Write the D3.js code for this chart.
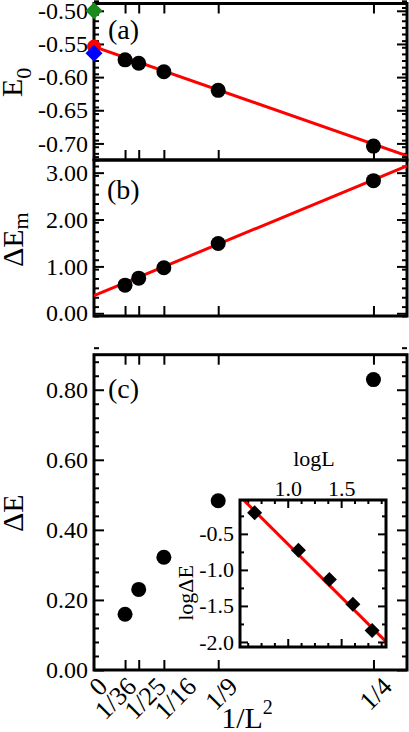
<!DOCTYPE html>
<html>
<head>
<meta charset="utf-8">
<script src="https://cdn.jsdelivr.net/npm/d3@7"></script>
<style>
body { margin: 0; background: #fff; }
svg { display: block; font-family: "Liberation Serif", "Times New Roman", serif; }
</style>
</head>
<body>
<svg id="chart" width="409" height="732"></svg>
<script>
// x positions: 1/L^2 for L = 6,5,4,3,2
let xTickValues = [0, 1/36, 1/25, 1/16, 1/9, 1/4];
let xTickLabels = ["0", "1/36", "1/25", "1/16", "1/9", "1/4"];
let invL2 = [1/36, 1/25, 1/16, 1/9, 1/4];

// panel (a)
let e0 = [-0.574, -0.579, -0.592, -0.620, -0.704];
let e0Fit = [-0.554, -0.588];          // intercept, slope
let e0Extra = [
    {y: -0.500, shape: "diamond", color: "#1a8a1a"},
    {y: -0.554, shape: "circle", color: "red"},
    {y: -0.564, shape: "diamond", color: "blue"}
];
let e0Ticks = [-0.70, -0.65, -0.60, -0.55, -0.50];

// panel (b)
let dEm = [0.60, 0.75, 0.97, 1.49, 2.83];
let dEmFit = [0.375, 9.90];
let dEmTicks = [0, 1, 2, 3];

// panel (c)
let dE = [0.159, 0.230, 0.322, 0.483, 0.829];
let dETicks = [0, 0.2, 0.4, 0.6, 0.8];

// inset
let logL = [1.79, 1.61, 1.39, 1.10, 0.69];
let logDE = [-1.840, -1.475, -1.132, -0.729, -0.207];
let logFit = [0.835, -1.475];
let logLTicks = [1.0, 1.5];
let logDETicks = [-2.0, -1.5, -1.0, -0.5];

// hand placed offsets of the slanted x labels (px right of the tick)
let xLabelNudge = [15, 13, 29, 34, 21, 20];

let svg = d3.select("#chart");
let left = 94, right = 407;
let x = d3.scaleLinear().domain([0, 0.28]).range([left, right]);

let frameWidth = 3;
let redWidth = 3;
let fmt2 = d => d.toFixed(2);
let fmt1 = d => d.toFixed(1);

function range(a, b, step) {
    let out = [];
    let n = Math.round((b - a) / step);
    for (let i = 0; i <= n; i++) out.push(+(a + i * step).toFixed(6));
    return out;
}

function diamond(g, cx, cy, r, color) {
    g.append("path")
        .attr("d", `M${cx},${cy - r}L${cx + r},${cy}L${cx},${cy + r}L${cx - r},${cy}Z`)
        .attr("fill", color);
}

// draw one panel: frame, ticks, y labels
function panel(opts) {
    let g = svg.append("g");
    let y = opts.y;
    let top = y.range()[1], bottom = y.range()[0];
    let id = "clip" + opts.name;
    svg.append("clipPath").attr("id", id)
        .append("rect").attr("x", left).attr("y", top)
        .attr("width", right - left).attr("height", bottom - top);

    // y minor + major ticks, left and right
    let minor = range(y.domain()[0], y.domain()[1], opts.minorStep)
        .filter(v => !opts.ticks.some(t => Math.abs(t - v) < 1e-6));
    g.append("g").attr("transform", `translate(${left},0)`)
        .call(d3.axisLeft(y).tickValues(minor).tickSize(-5).tickFormat(""));
    g.append("g").attr("transform", `translate(${right},0)`)
        .call(d3.axisRight(y).tickValues(minor).tickSize(-5).tickFormat(""));
    g.append("g").attr("transform", `translate(${left},0)`)
        .call(d3.axisLeft(y).tickValues(opts.ticks).tickSize(-10).tickPadding(6).tickFormat(fmt2));
    g.append("g").attr("transform", `translate(${right},0)`)
        .call(d3.axisRight(y).tickValues(opts.ticks).tickSize(-10).tickFormat(""));

    // x ticks top / bottom
    let xt = xTickValues.slice(1);
    if (opts.topTicks) {
        g.append("g").attr("transform", `translate(0,${top})`)
            .call(d3.axisTop(x).tickValues(xt).tickSize(-10).tickFormat(""));
    }
    g.append("g").attr("transform", `translate(0,${bottom})`)
        .call(d3.axisBottom(x).tickValues(xt).tickSize(-10).tickFormat(""));

    g.selectAll(".domain").remove();
    g.selectAll(".tick line").attr("stroke", "black").attr("stroke-width", 2);
    g.selectAll(".tick text").attr("font-size", 24).attr("font-family", "Liberation Serif").attr("fill", "black");

    g.append("rect").attr("x", left).attr("y", top)
        .attr("width", right - left).attr("height", bottom - top)
        .attr("fill", "none").attr("stroke", "black").attr("stroke-width", frameWidth);

    return svg.append("g").attr("clip-path", `url(#${id})`);
}

// ---- panel (a)
let yA = d3.scaleLinear().domain([-0.725, -0.489]).range([160, 3.5]);
let plotA = panel({name: "a", y: yA, ticks: e0Ticks, minorStep: 0.01, topTicks: true});
plotA.append("line")
    .attr("x1", x(0)).attr("y1", yA(e0Fit[0]))
    .attr("x2", x(0.28)).attr("y2", yA(e0Fit[0] + e0Fit[1] * 0.28))
    .attr("stroke", "red").attr("stroke-width", redWidth);
svg.append("g").selectAll("circle").data(invL2).enter().append("circle")
    .attr("cx", d => x(d)).attr("cy", (d, i) => yA(e0[i])).attr("r", 7.5).attr("fill", "black");
let extraG = svg.append("g");
e0Extra.forEach(d => {
    if (d.shape == "circle") {
        extraG.append("circle").attr("cx", x(0)).attr("cy", yA(d.y)).attr("r", 7).attr("fill", d.color);
    } else {
        diamond(extraG, x(0), yA(d.y), 8.5, d.color);
    }
});
svg.append("text").attr("x", 108).attr("y", 39).attr("font-size", 28).text("(a)");

// ---- panel (b)
let yB = d3.scaleLinear().domain([-0.058, 3.27]).range([316, 160]);
let plotB = panel({name: "b", y: yB, ticks: dEmTicks, minorStep: 0.2, topTicks: false});
plotB.append("line")
    .attr("x1", x(0)).attr("y1", yB(dEmFit[0]))
    .attr("x2", x(0.28)).attr("y2", yB(dEmFit[0] + dEmFit[1] * 0.28))
    .attr("stroke", "red").attr("stroke-width", redWidth);
svg.append("g").selectAll("circle").data(invL2).enter().append("circle")
    .attr("cx", d => x(d)).attr("cy", (d, i) => yB(dEm[i])).attr("r", 7.5).attr("fill", "black");
svg.append("text").attr("x", 107).attr("y", 199).attr("font-size", 28).text("(b)");

// ---- panel (c)
let yC = d3.scaleLinear().domain([0, 0.9]).range([670, 354.7]);
panel({name: "c", y: yC, ticks: dETicks, minorStep: 0.04, topTicks: true});
svg.append("g").selectAll("circle").data(invL2).enter().append("circle")
    .attr("cx", d => x(d)).attr("cy", (d, i) => yC(dE[i])).attr("r", 7.5).attr("fill", "black");
svg.append("text").attr("x", 108).attr("y", 398).attr("font-size", 28).text("(c)");

// slanted x tick labels
svg.append("g").selectAll("text").data(xTickValues).enter().append("text")
    .attr("transform", (d, i) => `translate(${x(d) + xLabelNudge[i]},688) rotate(-45)`)
    .attr("text-anchor", "end")
    .attr("font-size", 26)
    .text((d, i) => xTickLabels[i]);

// axis titles
let xTitle = svg.append("text").attr("x", 247).attr("y", 728).attr("text-anchor", "middle").attr("font-size", 30);
xTitle.append("tspan").text("1/L");
xTitle.append("tspan").attr("dy", -14).attr("font-size", 20).text("2");

let t1 = svg.append("text").attr("transform", "translate(22,97) rotate(-90)").attr("font-size", 30);
t1.append("tspan").text("E");
t1.append("tspan").attr("dy", 9).attr("font-size", 22).text("0");

let t2 = svg.append("text").attr("transform", "translate(23,267) rotate(-90)").attr("font-size", 30);
t2.append("tspan").text("ΔE");
t2.append("tspan").attr("dy", 5).attr("font-size", 22).text("m");

svg.append("text").attr("transform", "translate(23,532) rotate(-90)").attr("font-size", 30).text("ΔE");

// ---- inset
let ix = d3.scaleLinear().domain([0.553, 1.92]).range([240, 386]);
let iy = d3.scaleLinear().domain([-2.07, -0.03]).range([647, 500]);
let inset = svg.append("g");
inset.append("rect").attr("x", 240).attr("y", 500).attr("width", 146).attr("height", 147)
    .attr("fill", "white").attr("stroke", "none");
let ixMinor = range(0.625, 1.875, 0.125).filter(v => !logLTicks.includes(v));
let iyMinor = range(-2.0, -0.25, 0.25).filter(v => !logDETicks.includes(v));
let ia = inset.append("g");
ia.append("g").attr("transform", "translate(0,500)").call(d3.axisTop(ix).tickValues(ixMinor).tickSize(-4).tickFormat(""));
ia.append("g").attr("transform", "translate(0,647)").call(d3.axisBottom(ix).tickValues(ixMinor).tickSize(-4).tickFormat(""));
ia.append("g").attr("transform", "translate(0,500)").call(d3.axisTop(ix).tickValues(logLTicks).tickSize(-8).tickPadding(4).tickFormat(fmt1));
ia.append("g").attr("transform", "translate(0,647)").call(d3.axisBottom(ix).tickValues(logLTicks).tickSize(-8).tickFormat(""));
ia.append("g").attr("transform", "translate(240,0)").call(d3.axisLeft(iy).tickValues(iyMinor).tickSize(-4).tickFormat(""));
ia.append("g").attr("transform", "translate(386,0)").call(d3.axisRight(iy).tickValues(iyMinor).tickSize(-4).tickFormat(""));
ia.append("g").attr("transform", "translate(240,0)").call(d3.axisLeft(iy).tickValues(logDETicks).tickSize(-8).tickPadding(6).tickFormat(fmt1));
ia.append("g").attr("transform", "translate(386,0)").call(d3.axisRight(iy).tickValues(logDETicks).tickSize(-8).tickFormat(""));
ia.selectAll(".domain").remove();
ia.selectAll(".tick line").attr("stroke", "black").attr("stroke-width", 2);
ia.selectAll(".tick text").attr("font-size", 22).attr("font-family", "Liberation Serif").attr("fill", "black");

svg.append("clipPath").attr("id", "clipInset")
    .append("rect").attr("x", 240).attr("y", 500).attr("width", 146).attr("height", 147);
inset.append("g").attr("clip-path", "url(#clipInset)").append("line")
    .attr("x1", ix(0.553)).attr("y1", iy(logFit[0] + logFit[1] * 0.553))
    .attr("x2", ix(1.92)).attr("y2", iy(logFit[0] + logFit[1] * 1.92))
    .attr("stroke", "red").attr("stroke-width", redWidth);
logL.forEach((v, i) => diamond(inset, ix(v), iy(logDE[i]), 7.5, "black"));
inset.append("rect").attr("x", 240).attr("y", 500).attr("width", 146).attr("height", 147)
    .attr("fill", "none").attr("stroke", "black").attr("stroke-width", frameWidth);

inset.append("text").attr("x", 314).attr("y", 466).attr("text-anchor", "middle").attr("font-size", 22).text("logL");
inset.append("text").attr("transform", "translate(193,593) rotate(-90)").attr("text-anchor", "middle").attr("font-size", 22).text("logΔE");
</script>
</body>
</html>
